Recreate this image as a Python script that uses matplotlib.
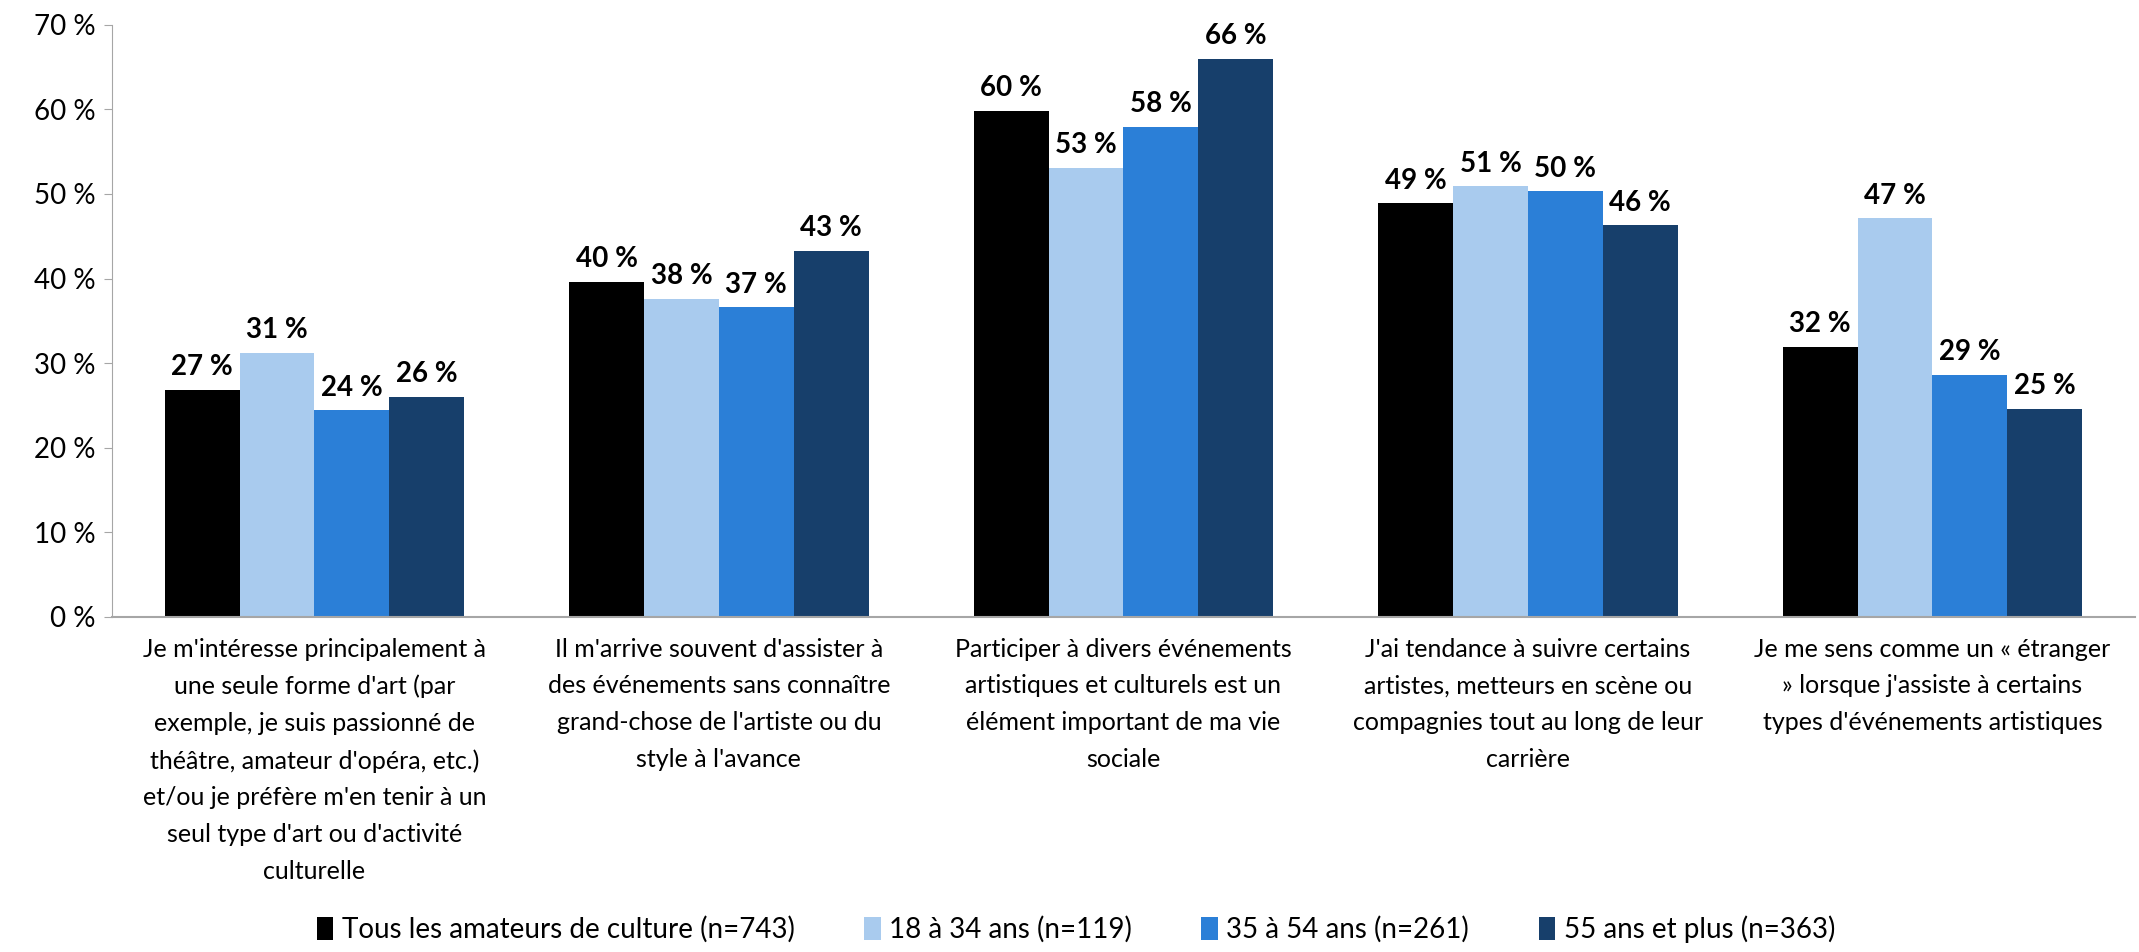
import matplotlib
matplotlib.use("Agg")
import matplotlib.pyplot as plt
import numpy as np
from matplotlib import font_manager

# reference uses Calibri; take a narrow font if there is one, else Lato
names = {f.name for f in font_manager.fontManager.ttflist}
FONT = ["Liberation Sans Narrow", "Lato", "DejaVu Sans"]
FONT = [f for f in FONT if f in names] or ["DejaVu Sans"]
plt.rcParams["font.family"] = FONT

categories = [
    "Je m'intéresse principalement à\nune seule forme d'art (par\nexemple, je suis passionné de\nthéâtre, amateur d'opéra, etc.)\net/ou je préfère m'en tenir à un\nseul type d'art ou d'activité\nculturelle",
    "Il m'arrive souvent d'assister à\ndes événements sans connaître\ngrand-chose de l'artiste ou du\nstyle à l'avance",
    "Participer à divers événements\nartistiques et culturels est un\nélément important de ma vie\nsociale",
    "J'ai tendance à suivre certains\nartistes, metteurs en scène ou\ncompagnies tout au long de leur\ncarrière",
    "Je me sens comme un « étranger\n» lorsque j'assiste à certains\ntypes d'événements artistiques",
]
series_names = [
    "Tous les amateurs de culture (n=743)",
    "18 à 34 ans (n=119)",
    "35 à 54 ans (n=261)",
    "55 ans et plus (n=363)",
]
tous = [26.8, 39.6, 59.8, 48.9, 31.9]
ans_18_34 = [31.2, 37.6, 53.1, 50.9, 47.1]
ans_35_54 = [24.4, 36.6, 57.9, 50.3, 28.6]
ans_55_plus = [26.0, 43.3, 66.0, 46.3, 24.6]
colors = ["#000000", "#A9CBEE", "#2B7FD7", "#173F6B"]

fig = plt.figure(figsize=(21.39, 9.52), dpi=100)
ax = fig.add_axes([0.0524, 0.352, 0.9456, 0.622])

x = np.arange(len(categories))
w = 0.185
all_series = [tous, ans_18_34, ans_35_54, ans_55_plus]
for i, (vals, name, c) in enumerate(zip(all_series, series_names, colors)):
    pos = x + (i - 1.5) * w
    bars = ax.bar(pos, vals, w, color=c, label=name)
    for b, v in zip(bars, vals):
        ax.annotate(f"{round(v):d} %", (b.get_x() + w / 2, v),
                    xytext=(0, 7), textcoords="offset points",
                    ha="center", va="bottom", fontsize=20, fontweight="bold")

ax.set_xlim(-0.5, len(categories) - 0.5)
ax.set_ylim(0, 70)
ax.set_yticks(range(0, 71, 10))
ax.set_yticklabels([f"{t} %" for t in range(0, 71, 10)], fontsize=20)
ax.set_xticks(x)
ax.set_xticklabels(categories, fontsize=18, linespacing=1.72, va="top")
ax.tick_params(axis="x", length=0, pad=15)
ax.tick_params(axis="y", length=6, color="#A6A6A6", pad=6)
for s in ["top", "right"]:
    ax.spines[s].set_visible(False)
ax.spines["left"].set_color("#A6A6A6")
ax.spines["bottom"].set_color("#A6A6A6")
ax.spines["bottom"].set_linewidth(1.5)

fig.legend(loc="center", bbox_to_anchor=(0.503, 0.024), ncol=4, frameon=False,
           fontsize=20, handlelength=0.6, handleheight=0.9, handletextpad=0.3,
           columnspacing=2.5)

fig.savefig("out.png", dpi=100)
